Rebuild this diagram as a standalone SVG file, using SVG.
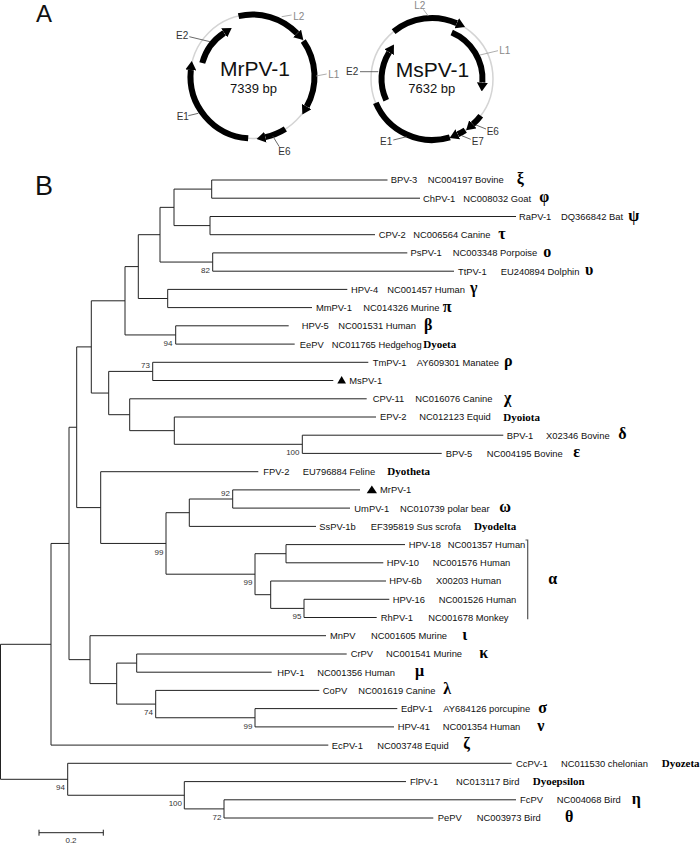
<svg xmlns="http://www.w3.org/2000/svg" width="700" height="844" viewBox="0 0 700 844">
<style>
.n{font-family:"Liberation Sans",Arial,sans-serif;font-size:9.4px;fill:#111}
.g{font-family:"Liberation Serif","Times New Roman",serif;font-size:16px;font-weight:bold;fill:#000}
.d{font-family:"Liberation Serif","Times New Roman",serif;font-size:11px;font-weight:bold;fill:#000}
.bs{font-family:"Liberation Sans",Arial,sans-serif;font-size:8px;fill:#333;text-anchor:end}
.tree{fill:none;stroke:#222;stroke-width:1}
.ring{fill:none;stroke:#d4d4d4;stroke-width:1.5}
.orf{fill:none;stroke:#000;stroke-width:6}
.ml{font-family:"Liberation Sans",Arial,sans-serif;font-size:10px}
.lg{fill:#888}
.le{fill:#333}
.ldg{stroke:#999;stroke-width:0.8}
.lde{stroke:#444;stroke-width:0.8}
.panel{font-family:"Liberation Sans",Arial,sans-serif;fill:#111}
.title{font-family:"Liberation Sans",Arial,sans-serif;fill:#111;text-anchor:middle}
</style>
<defs>
<marker id="ah" markerUnits="userSpaceOnUse" markerWidth="9" markerHeight="11" refX="0" refY="5.5" orient="auto" viewBox="0 0 9 11"><path d="M0,0 L9,5.5 L0,11 z" fill="#000"/></marker>
</defs>

<text class="panel" x="36" y="22" font-size="24">A</text>
<text class="panel" x="35" y="195" font-size="27">B</text>

<g id="map-MrPV-1">
<circle class="ring" cx="252.5" cy="76.5" r="62"/>
<path class="orf" d="M238.55,16.11 A62,62 0 0 1 297.1,33.43" marker-end="url(#ah)"/>
<path class="orf" d="M303.29,40.94 A62,62 0 0 1 306.73,106.56" marker-end="url(#ah)"/>
<path class="orf" d="M285.35,129.08 A62,62 0 0 1 265.39,137.14" marker-end="url(#ah)"/>
<path class="orf" d="M248.17,138.35 A62,62 0 0 1 190.84,70.02" marker-end="url(#ah)"/>
<path class="orf" d="M202.27,63.04 A52,52 0 0 1 224.18,32.89" marker-end="url(#ah)"/>
<line class="ldg" x1="281.7" y1="16.7" x2="291.7" y2="15"/>
<line class="ldg" x1="316" y1="76" x2="326.7" y2="74"/>
<line class="lde" x1="189.3" y1="36.7" x2="210" y2="41.7"/>
<line class="lde" x1="188.3" y1="115.7" x2="198.3" y2="113.3"/>
<line class="lde" x1="272.7" y1="136" x2="279.3" y2="146.7"/>
<text class="ml lg" x="293.3" y="19.5">L2</text>
<text class="ml lg" x="328.3" y="77.5">L1</text>
<text class="ml le" x="176" y="38.5">E2</text>
<text class="ml le" x="176.7" y="120">E1</text>
<text class="ml le" x="278.3" y="155">E6</text>
<text class="title" x="255" y="76" font-size="21">MrPV-1</text>
<text class="title" x="253.5" y="92.7" font-size="13">7339 bp</text>
</g>

<g id="map-MsPV-1">
<circle class="ring" cx="432" cy="79" r="61"/>
<path class="orf" d="M393.61,31.6 A61,61 0 0 1 456.81,23.28" marker-end="url(#ah)"/>
<path class="orf" d="M451.73,32.51 A50.5,50.5 0 0 1 482.38,82.52" marker-end="url(#ah)"/>
<path class="orf" d="M480.72,115.71 A61,61 0 0 1 472.82,124.33" marker-end="url(#ah)"/>
<path class="orf" d="M465.22,130.16 A61,61 0 0 1 457.78,134.28" marker-end="url(#ah)"/>
<path class="orf" d="M449.84,137.33 A61,61 0 0 1 375.85,102.83"/>
<path class="orf" d="M386.23,100.34 A50.5,50.5 0 0 1 389.18,52.24" marker-end="url(#ah)"/>
<line class="ldg" x1="423.3" y1="9.3" x2="428.3" y2="16"/>
<line class="ldg" x1="480" y1="55" x2="498" y2="50.7"/>
<line class="lde" x1="360" y1="71.7" x2="378.3" y2="71.7"/>
<line class="lde" x1="476" y1="125" x2="486" y2="129"/>
<line class="lde" x1="461.7" y1="135.7" x2="470.7" y2="139.3"/>
<line class="lde" x1="393.3" y1="140" x2="406.7" y2="136.7"/>
<text class="ml lg" x="414.3" y="9.3">L2</text>
<text class="ml lg" x="499.3" y="53.5">L1</text>
<text class="ml le" x="346" y="75">E2</text>
<text class="ml le" x="486.7" y="134.5">E6</text>
<text class="ml le" x="471.7" y="145">E7</text>
<text class="ml le" x="380" y="145">E1</text>
<text class="title" x="432.5" y="77.3" font-size="21">MsPV-1</text>
<text class="title" x="431.7" y="93.3" font-size="13">7632 bp</text>
</g>

<g id="connectors">
<path class="tree" d="M0.5 644.3 V779.3 M0.5 644.3 H51 M0.5 779.3 H67.7
M51 543.45 V745.1 M51 543.45 H69 M51 745.1 H328.3
M69 427.25 V659.65 M69 427.25 H76.7 M69 659.65 H90
M76.7 346.9 V507.6 M76.7 346.9 H91.3 M76.7 507.6 H100.7
M91.3 300.8 V393.05 M91.3 300.8 H125 M91.3 393.05 H108.7
M125 266.6 V334.95 M125 266.6 H138.3 M125 334.95 H175.7
M138.3 234.7 V298.5 M138.3 234.7 H160 M138.3 298.5 H167.7
M160 207.35 V262.05 M160 207.35 H174 M160 262.05 H212.7
M174 189.1 V225.6 M174 189.1 H211.7 M174 225.6 H210
M211.7 180 V198.2 M211.7 180 H387.5 M211.7 198.2 H420
M210 216.5 V234.7 M210 216.5 H516 M210 234.7 H375
M212.7 252.9 V271.2 M212.7 252.9 H407.3 M212.7 271.2 H454
M167.7 289.4 V307.6 M167.7 289.4 H347.3 M167.7 307.6 H312
M175.7 325.8 V344.1 M175.7 325.8 H288.7 M175.7 344.1 H294.7
M108.7 371.4 V414.7 M108.7 371.4 H152.7 M108.7 414.7 H129.7
M152.7 362.3 V380.5 M152.7 362.3 H368.3 M152.7 380.5 H333.3
M129.7 398.8 V430.65 M129.7 398.8 H366.7 M129.7 430.65 H174.3
M174.3 417 V444.3 M174.3 417 H376 M174.3 444.3 H302.3
M302.3 435.2 V453.4 M302.3 435.2 H503.3 M302.3 453.4 H441.7
M100.7 471.7 V543.45 M100.7 471.7 H258.3 M100.7 543.45 H166
M166 512.7 V574.2 M166 512.7 H189.3 M166 574.2 H255
M189.3 499 V526.4 M189.3 499 H232.7 M189.3 526.4 H316
M232.7 489.9 V508.1 M232.7 489.9 H360 M232.7 508.1 H350
M255 553.7 V594.7 M255 553.7 H286 M255 594.7 H270.7
M286 544.6 V562.8 M286 544.6 H405 M286 562.8 H383.3
M270.7 581 V608.4 M270.7 581 H386 M270.7 608.4 H304
M304 599.3 V617.5 M304 599.3 H389.3 M304 617.5 H376.7
M90 635.7 V683.6 M90 635.7 H326 M90 683.6 H116.7
M116.7 663.1 V704.1 M116.7 663.1 H136.7 M116.7 704.1 H155.7
M136.7 654 V672.2 M136.7 654 H346.7 M136.7 672.2 H271.7
M155.7 690.4 V717.75 M155.7 690.4 H319.3 M155.7 717.75 H255
M255 708.6 V726.9 M255 708.6 H397.3 M255 726.9 H394
M67.7 763.3 V795.25 M67.7 763.3 H511.7 M67.7 795.25 H184.3
M184.3 781.6 V808.9 M184.3 781.6 H406 M184.3 808.9 H224
M224 799.8 V818 M224 799.8 H516 M224 818 H433.3"/>
</g>

<g id="bootstrap">
<text class="bs" x="210" y="273">82</text>
<text class="bs" x="172.5" y="345.9">94</text>
<text class="bs" x="150" y="368">73</text>
<text class="bs" x="299.5" y="455.3">100</text>
<text class="bs" x="230" y="495.5">92</text>
<text class="bs" x="163.5" y="554.5">99</text>
<text class="bs" x="252.5" y="585.2">99</text>
<text class="bs" x="301.5" y="619.4">95</text>
<text class="bs" x="153" y="715.1">74</text>
<text class="bs" x="252.5" y="728.7">99</text>
<text class="bs" x="65" y="790.3">94</text>
<text class="bs" x="182" y="806.2">100</text>
<text class="bs" x="221.5" y="819.9">72</text>
</g>

<g id="leaf-BPV-3"><text class="n" x="390.7" y="183.4">BPV-3</text><text class="n" x="427.7" y="183.4">NC004197 Bovine</text><text class="g" x="516.7" y="184">ξ</text></g>
<g id="leaf-ChPV-1"><text class="n" x="423" y="201.6">ChPV-1</text><text class="n" x="463.3" y="201.6">NC008032 Goat</text><text class="g" x="539.3" y="202.2">φ</text></g>
<g id="leaf-RaPV-1"><text class="n" x="519" y="219.9">RaPV-1</text><text class="n" x="561" y="219.9">DQ366842 Bat</text><text class="g" x="628.3" y="220.5">ψ</text></g>
<g id="leaf-CPV-2"><text class="n" x="378.7" y="238.1">CPV-2</text><text class="n" x="413.3" y="238.1">NC006564 Canine</text><text class="g" x="498.3" y="238.7">τ</text></g>
<g id="leaf-PsPV-1"><text class="n" x="410.5" y="256.3">PsPV-1</text><text class="n" x="452.7" y="256.3">NC003348 Porpoise</text><text class="g" x="543.3" y="256.9">ο</text></g>
<g id="leaf-TtPV-1"><text class="n" x="458" y="274.6">TtPV-1</text><text class="n" x="500.7" y="274.6">EU240894 Dolphin</text><text class="g" x="585" y="275.2">υ</text></g>
<g id="leaf-HPV-4"><text class="n" x="351" y="292.8">HPV-4</text><text class="n" x="387.3" y="292.8">NC001457 Human</text><text class="g" x="470" y="293.4">γ</text></g>
<g id="leaf-MmPV-1"><text class="n" x="316" y="311">MmPV-1</text><text class="n" x="363.3" y="311">NC014326 Murine</text><text class="g" x="442.7" y="311.6">π</text></g>
<g id="leaf-HPV-5"><text class="n" x="301.7" y="329.2">HPV-5</text><text class="n" x="338.3" y="329.2">NC001531 Human</text><text class="g" x="424" y="329.8">β</text></g>
<g id="leaf-EePV"><text class="n" x="299.7" y="347.5">EePV</text><text class="n" x="331.7" y="347.5">NC011765 Hedgehog</text><text class="d" x="423.3" y="347.6">Dyoeta</text></g>
<g id="leaf-TmPV-1"><text class="n" x="372.7" y="365.7">TmPV-1</text><text class="n" x="416.7" y="365.7">AY609301 Manatee</text><text class="g" x="504" y="366.3">ρ</text></g>
<g id="leaf-MsPV-1"><path d="M337.3 383.5 L346 383.5 L341.65 376 Z" fill="#000"/><text class="n" x="349.3" y="383.9">MsPV-1</text></g>
<g id="leaf-CPV-11"><text class="n" x="372.7" y="402.2">CPV-11</text><text class="n" x="415.3" y="402.2">NC016076 Canine</text><text class="g" x="504" y="402.8">χ</text></g>
<g id="leaf-EPV-2"><text class="n" x="380" y="420.4">EPV-2</text><text class="n" x="419.3" y="420.4">NC012123 Equid</text><text class="d" x="503.3" y="420.5">Dyoiota</text></g>
<g id="leaf-BPV-1"><text class="n" x="506.7" y="438.6">BPV-1</text><text class="n" x="546" y="438.6">X02346 Bovine</text><text class="g" x="618.3" y="439.2">δ</text></g>
<g id="leaf-BPV-5"><text class="n" x="445.7" y="456.8">BPV-5</text><text class="n" x="486.7" y="456.8">NC004195 Bovine</text><text class="g" x="573.3" y="457.4">ε</text></g>
<g id="leaf-FPV-2"><text class="n" x="263.3" y="475.1">FPV-2</text><text class="n" x="302.7" y="475.1">EU796884 Feline</text><text class="d" x="387.3" y="475.2">Dyotheta</text></g>
<g id="leaf-MrPV-1"><path d="M366.7 493.2 L377 493.2 L371.85 485.5 Z" fill="#000"/><text class="n" x="380" y="493.3">MrPV-1</text></g>
<g id="leaf-UmPV-1"><text class="n" x="354.3" y="511.5">UmPV-1</text><text class="n" x="400" y="511.5">NC010739 polar bear</text><text class="g" x="499.3" y="512.1">ω</text></g>
<g id="leaf-SsPV-1b"><text class="n" x="319.3" y="529.8">SsPV-1b</text><text class="n" x="370.7" y="529.8">EF395819 Sus scrofa</text><text class="d" x="474" y="529.9">Dyodelta</text></g>
<g id="leaf-HPV-18"><text class="n" x="408.7" y="548">HPV-18</text><text class="n" x="447.7" y="548">NC001357 Human</text></g>
<g id="leaf-HPV-10"><text class="n" x="386.7" y="566.2">HPV-10</text><text class="n" x="432.7" y="566.2">NC001576 Human</text></g>
<g id="leaf-HPV-6b"><text class="n" x="389.3" y="584.4">HPV-6b</text><text class="n" x="436" y="584.4">X00203 Human</text></g>
<g id="leaf-HPV-16"><text class="n" x="392.7" y="602.7">HPV-16</text><text class="n" x="438.7" y="602.7">NC001526 Human</text></g>
<g id="leaf-RhPV-1"><text class="n" x="380.7" y="620.9">RhPV-1</text><text class="n" x="428.3" y="620.9">NC001678 Monkey</text></g>
<g id="alpha-bracket"><path d="M525.5 540 H527.7 V619.3" fill="none" stroke="#555" stroke-width="1.2"/><text class="g" x="548.3" y="584">α</text></g>
<g id="leaf-MnPV"><text class="n" x="330" y="639.1">MnPV</text><text class="n" x="371" y="639.1">NC001605 Murine</text><text class="g" x="462.3" y="639.7">ι</text></g>
<g id="leaf-CrPV"><text class="n" x="350.7" y="657.4">CrPV</text><text class="n" x="386" y="657.4">NC001541 Murine</text><text class="g" x="479.3" y="658">κ</text></g>
<g id="leaf-HPV-1"><text class="n" x="277.3" y="675.6">HPV-1</text><text class="n" x="317.3" y="675.6">NC001356 Human</text><text class="g" x="415" y="676.2">μ</text></g>
<g id="leaf-CoPV"><text class="n" x="322.7" y="693.8">CoPV</text><text class="n" x="358.3" y="693.8">NC001619 Canine</text><text class="g" x="443.3" y="694.4">λ</text></g>
<g id="leaf-EdPV-1"><text class="n" x="401" y="712">EdPV-1</text><text class="n" x="443.3" y="712">AY684126 porcupine</text><text class="g" x="538.3" y="712.6">σ</text></g>
<g id="leaf-HPV-41"><text class="n" x="397.7" y="730.3">HPV-41</text><text class="n" x="442.7" y="730.3">NC001354 Human</text><text class="g" x="537.3" y="730.9">ν</text></g>
<g id="leaf-EcPV-1"><text class="n" x="331.7" y="748.5">EcPV-1</text><text class="n" x="377.3" y="748.5">NC003748 Equid</text><text class="g" x="463.3" y="749.1">ζ</text></g>
<g id="leaf-CcPV-1"><text class="n" x="516" y="766.7">CcPV-1</text><text class="n" x="561" y="766.7">NC011530 chelonian</text><text class="d" x="661.7" y="766.8">Dyozeta</text></g>
<g id="leaf-FlPV-1"><text class="n" x="410" y="785">FlPV-1</text><text class="n" x="456" y="785">NC013117 Bird</text><text class="d" x="532.7" y="785.1">Dyoepsilon</text></g>
<g id="leaf-FcPV"><text class="n" x="520" y="803.2">FcPV</text><text class="n" x="556.7" y="803.2">NC004068 Bird</text><text class="g" x="631.7" y="803.8">η</text></g>
<g id="leaf-PePV"><text class="n" x="437.7" y="821.4">PePV</text><text class="n" x="476.7" y="821.4">NC003973 Bird</text><text class="g" x="565" y="822">θ</text></g>

<g id="scale-bar">
<path d="M39 832.7 H103.3 M39 829.7 V835.7 M103.3 829.7 V835.7" fill="none" stroke="#222" stroke-width="1"/>
<text x="71" y="843" font-family="Liberation Sans, Arial, sans-serif" font-size="8" fill="#333" text-anchor="middle">0.2</text>
</g>
</svg>
